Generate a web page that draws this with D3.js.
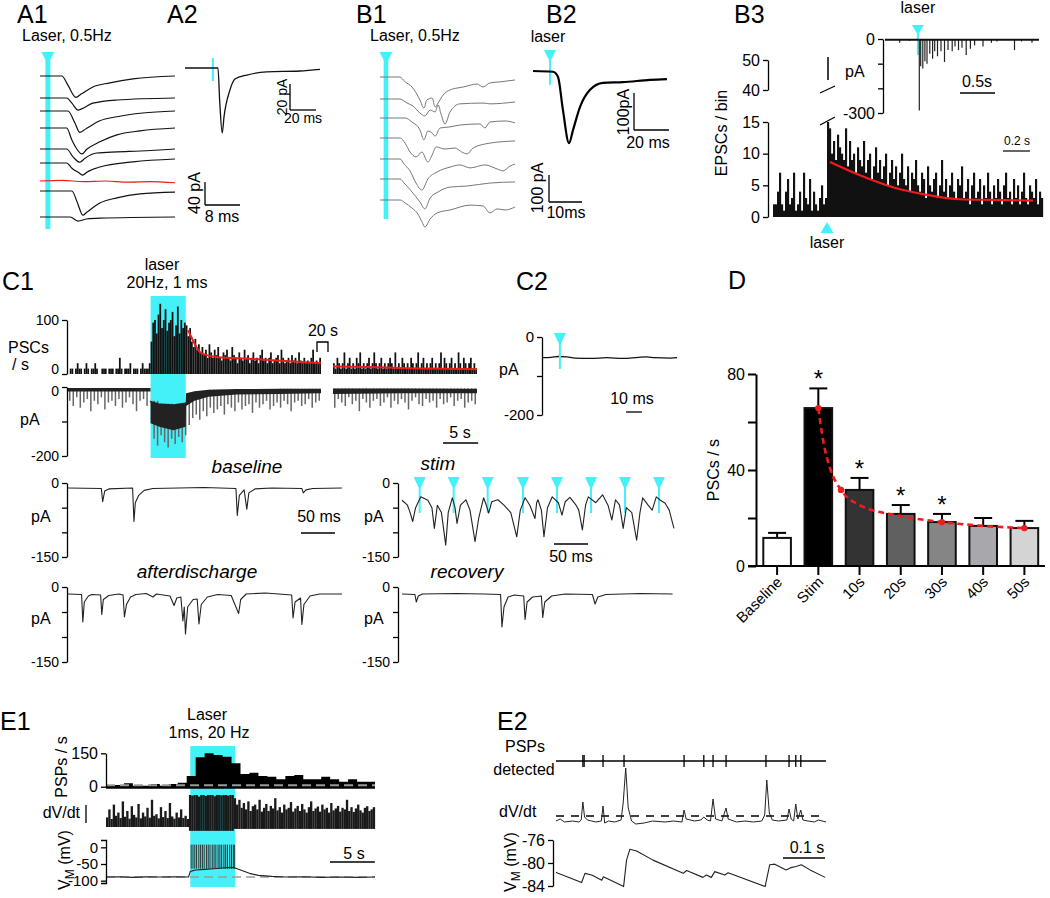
<!DOCTYPE html>
<html><head><meta charset="utf-8">
<script src="https://cdn.jsdelivr.net/npm/d3@7"></script>
<style>body{margin:0;background:#fff}</style>
</head><body>
<script>
// ================= DATA =================
// A1: evoked EPSCs (ms, pA), 9 sweeps, sweep 7 is the failure (red)
const a1Laser = 1.8;
const a1Traces = [
 [[0,0],[5,0],[6.4,-16],[8.2,-37],[9.5,-31],[12.1,-19],[16,-12],[21.3,-5],[30.9,0]],
 [[0,0],[6.1,0],[7.3,-9],[8.7,-21],[9.5,-19],[12.1,-9],[17.6,-3.5],[30.9,0]],
 [[0,0],[6.4,0],[8,-21],[9.1,-37],[10.7,-30],[13.7,-17],[17.6,-10],[23.5,-3.5],[30.9,0]],
 [[0,0],[6.1,0],[7.3,-21],[9.6,-45],[10.7,-37],[13.7,-24],[17.6,-12],[22.9,-5],[30.9,0]],
 [[0,0],[6.1,0],[7.6,-14],[9.1,-23],[10.3,-16],[13,-7],[17.6,-5],[22.9,-3.5],[30.9,0]],
 [[0,0],[6.1,0],[7.3,-9],[8.9,-17],[9.8,-21],[10.7,-16],[13.7,-7],[21.3,2],[30.9,7]],
 [[0,0],[5,1],[10,-1],[15,0],[20,-2],[25,-1],[30.9,-3]],
 [[0,0],[7.3,0],[8.5,-19],[9.8,-42],[10.7,-37],[13.7,-21],[17.6,-12],[22.9,-5],[30.9,-2]],
 [[0,0],[6.9,0],[8.7,-7],[10.7,-3.5],[13.7,-2],[30.9,0]]
];
const a1Failure = 6;
// A2: average EPSC (ms, pA)
const a2Laser = 21.5;
const a2Trace = [[0,0],[25.4,0],[26.7,-25],[28.7,-50],[30,-38],[34.6,-17],[38.5,-8.5],[47.7,-5.4],[63,-3],[88.5,-2.3],[104,-1]];
// B1: polysynaptic EPSCs (ms, pA)
const b1Laser = 1.8;
const b1Traces = [
 [[0,0],[6,0],[7.6,-18],[9.7,-37],[12.1,-85],[13.3,-115],[14.2,-85],[15.8,-78],[16.7,-111],[17.6,-96],[19.1,-67],[21.2,-48],[23.3,-41],[25.2,-37],[29.4,-26],[31.2,-37],[33.3,-22],[36.4,-18],[40.9,-11]],
 [[0,0],[6,0],[8.2,-15],[10,-26],[12.1,-52],[13.6,-63],[15.2,-41],[16.7,-48],[17.6,-22],[18.5,-56],[19.7,-93],[21.2,-48],[24.2,-18],[31.2,-15],[33.3,-18],[40.9,-11]],
 [[0,0],[7.6,0],[9.7,-15],[12.1,-44],[13.3,-81],[14.5,-48],[15.8,-56],[16.7,-67],[18.2,-37],[21.2,-33],[24.2,-26],[30.3,-22],[31.8,-37],[33.3,-15],[37.9,-11],[40.9,-18]],
 [[0,0],[6.1,0],[7.6,-19],[9.1,-52],[10.9,-70],[12.7,-52],[14.5,-89],[15.8,-63],[17,-33],[19.7,-41],[22.7,-37],[24.8,-52],[26.4,-59],[28.2,-37],[33.3,-19],[40.9,-11]],
 [[0,0],[6.1,0],[7.3,-19],[9.1,-44],[10.9,-89],[12.7,-115],[14.5,-74],[17.3,-48],[21.2,-30],[24.2,-22],[27.3,-33],[31.8,-22],[35.5,-37],[37.3,-44],[39.4,-26],[40.9,-19]],
 [[0,0],[6.1,0],[7.3,-15],[9.7,-48],[12.1,-85],[13.6,-111],[15.2,-70],[17.6,-48],[21.2,-30],[26.4,-26],[33.3,-15],[40.9,-11]],
 [[0,0],[6.1,0],[7.6,-11],[9.7,-30],[11.5,-52],[12.7,-81],[13.6,-100],[15.2,-70],[17.3,-48],[21.2,-37],[27.3,-19],[31.2,-22],[33.3,-48],[35.5,-33],[37.9,-37],[40.9,-26]]
];
// B2: average EPSC (ms, pA)
const b2Laser = 9.7;
const b2Trace = [[0,0],[11.4,-2],[14.3,-16],[17.1,-105],[20.6,-195],[22.9,-159],[26.9,-97],[32.6,-51],[40,-32],[51.4,-30],[66.9,-24],[76.6,-22]];
// B3: EPSCs per bin, before and after the laser
const b3Pre = [2,2,4,7,2,1,4,6,2,3,7,1,2,4,1,7,3,2,6,1,4,2,1,3,5,2,3];
const b3Post = [51,14,10,12,9,13,11,10,9,14, 8,12,9,10,7,11,9,8,12,7, 9,10,6,8,11,7,9,6,8,10,
 5,7,9,6,8,5,7,10,6,5, 8,4,7,6,9,5,4,7,6,3, 8,5,4,6,7,3,5,9,4,6, 3,5,7,4,3,6,5,8,3,4,
 6,2,5,7,3,4,6,2,5,3, 7,4,2,5,3,6,4,2,5,7, 3,4,2,6,3,5,2,4,7,3, 2,5,4,3,6,2,4,3];
const b3Fit = [[28.5,8.7],[43.5,6.6],[60,4.7],[77,3.5],[93.5,2.8],[110,2.7],[130,2.6]];
const b3TicksLow = [0,5,10,15];
const b3TicksHigh = [40,50];
// B3 inset: sweep events (s, pA)
const b3InsetLaser = 0.47;
const b3InsetEvents = [[0.21,-15],[0.35,-8],[0.49,-290],[0.51,-110],[0.54,-120],[0.57,-90],[0.6,-100],[0.64,-60],[0.68,-80],[0.71,-50],[0.75,-70],[0.8,-50],[0.85,-93],[0.9,-45],[0.96,-50],[1.0,-30],[1.05,-45],[1.1,-35],[1.16,-65],[1.22,-40],[1.28,-25],[1.4,-30],[1.52,-15],[1.6,-10],[1.85,-45],[1.95,-10],[2.1,-15]];
const b3InsetTicks = [0,-100,-200,-300];
// C1: PSCs / s in 0.25 s bins
const pscBin = 0.25;
const pscBaseline = [0,10,10,0,10,20,10,10,0,10, 20,10,0,10,10,20,10,0,0,10, 10,10,0,10,10,10,0,10,10,30, 10,0,10,10,10,20,0,10,10,10, 0,10,20,10,10,10,20];
const pscStim = [60,95,100,75,110,130,85,100,120,80, 95,100,115,70,90,125,75,100,85,95];
const pscAfter = [90,70,85,60,50,65,45,55,40,50, 35,45,30,55,40,30,45,35,50,30, 25,40,35,45,30,25,50,35,30,20,
 40,30,25,45,30,35,20,30,40,25, 30,20,35,45,25,30,20,30,40,20, 25,30,35,20,45,30,20,25,30,20, 35,25,30,20,40,25,20,30,20,25, 20,30,45,20,25,20,30];
const pscLate = [20,10,30,20,10,20,40,10,20,30, 10,20,10,30,20,40,10,20,10,20, 30,10,20,40,20,10,20,30,10,20,
 10,20,30,20,10,40,10,20,10,30, 20,10,20,10,30,20,10,20,40,10, 20,30,10,20,10,20,30,10,20,10,
 20,40,10,30,20,10,20,30,10,20, 10,40,20,10,30,20,10,20,30,10, 20,10];
const pscFit1 = [[17.1,81],[17.9,59],[18.9,39],[21.3,31],[26,28],[30.7,24],[36,20]];
const pscFit2 = [[0,14],[4.9,13],[9.6,11],[20.5,9]];
const c1Laser = [11.75, 16.75];
// C1: current trace, 0.5 s bins: spike tips (pA) and band envelope [t, top, bottom]
const pABin = 0.5;
const pASpkPre = [-40,-55,-30,-60,-45,-35,-70,-40,-50,-30,-65,-45,-40,-55,-35,-60,-45,-30,-50,-70,-40,-35,-55,-45];
const pASpkStim = [-150,-170,-140,-160,-175,-150,-165,-145,-160,-140];
const pASpkAfter = [-110,-90,-80,-95,-70,-85,-60,-75,-65,-55,-80,-50,-60,-70,-45,-65,-55,-50,-75,-45,-60,-50,-40,-65,-55,-45,-60,-40,-50,-70,-45,-40,-55,-50,-35,-60,-45,-40];
const pASpkLate = [-60,-35,-45,-55,-30,-50,-40,-70,-35,-45,-60,-40,-35,-55,-45,-30,-60,-40,-50,-35,-45,-65,-40,-30,-50,-55,-35,-45,-40,-60,-35,-50,-45,-30,-55,-40,-35,-60,-45,-40,-50];
const pABand1 = [[0,-3,-13],[11.74,-3,-13],[11.75,-40,-105],[13,-48,-115],[15,-50,-125],[16.75,-45,-115],[16.8,-18,-55],[18,-12,-40],[20,-8,-28],[24,-6,-22],[30,-5,-20],[36,-5,-18]];
const pABand2 = [[0,-4,-20],[10,-4,-18],[20.5,-5,-18]];
// C2 (ms, pA)
const c2Laser = 10.6;
const c2Trace = [[0,-53],[5,-52],[10,-50],[15,-51],[20,-54],[30,-55],[40,-53],[50,-55],[60,-52],[65,-51],[70,-53],[80,-54],[84,-53]];
// C sample sweeps (ms, pA)
const cBaseline = [[0,-10],[49,-11],[51,-38],[54,-16],[60,-12],[95,-10],[97,-78],[99,-40],[104,-25],[112,-15],[125,-11],[200,-9],[247,-11],[249,-66],[252,-25],[259,-14],[263,-53],[266,-20],[275,-12],[300,-10],[344,-11],[346,-20],[350,-14],[360,-11],[403,-10]];
const cStim = [[0,-35],[8,-45],[12,-60],[15.7,-78],[20,-50],[27.6,-28],[38,-35],[44,-50],[47.6,-92],[52,-45],[58,-60],[64.3,-126],[68,-60],[74,-30],[78,-50],[80.9,-82],[86,-45],[94,-34],[100,-55],[107.4,-119],[113,-70],[120,-30],[124,-45],[127.5,-61],[132,-38],[141,-34],[150,-45],[160,-60],[168.8,-109],[174,-55],[181,-30],[188,-45],[195.6,-72],[198,-40],[200,-34],[205,-55],[208.8,-109],[214,-50],[221,-28],[230,-40],[235.3,-65],[240,-38],[247,-29],[256,-45],[260,-55],[265.3,-95],[270,-45],[274,-28],[285,-40],[295,-24],[303,-45],[308.7,-75],[314,-34],[320,-45],[325.3,-92],[330,-50],[338,-60],[345.1,-116],[350,-60],[354,-30],[362,-45],[368,-55],[374,-28],[380,-35],[387,-41],[393,-55],[400,-92]];
const cStimPulses = [26,76,126,178,228,278,328,378];
const cAfter = [[0,-14],[20,-15],[21.8,-70],[24,-30],[30,-18],[35,-15],[48,-16],[49.7,-55],[52,-25],[60,-17],[75,-14],[81,-16],[83,-60],[86,-35],[92,-20],[100,-15],[115,-13],[125,-20],[130,-14],[140,-16],[150,-18],[156,-37],[160,-22],[166,-20],[169,-68],[171,-40],[172.8,-94],[176,-40],[184,-25],[190,-24],[192.6,-74],[196,-35],[205,-20],[220,-15],[240,-17],[251,-53],[254,-25],[262,-14],[290,-12],[310,-14],[329,-16],[331,-62],[334,-30],[342,-22],[344,-75],[347,-35],[356,-18],[370,-14],[403,-14]];
const cRecovery = [[0,-14],[19,-15],[21,-30],[24,-18],[30,-14],[80,-13],[120,-14],[145,-15],[147,-80],[150,-40],[156,-20],[165,-16],[179,-18],[181,-65],[184,-30],[192,-20],[205,-18],[207,-61],[210,-30],[220,-18],[240,-14],[280,-15],[284,-34],[288,-20],[300,-15],[350,-13],[398,-14]];
// D: PSCs / s
const dCats = ['Baseline','Stim','10s','20s','30s','40s','50s'];
const dMeans = [11.7,65.8,31.7,21.7,18.3,16.7,15.8];
const dErr = [2.1,8.2,5.0,3.7,3.4,3.3,3.0];
const dSig = [false,true,true,true,true,false,false];
const dFill = ['#ffffff','#000000','#333333','#606060','#858585','#a7a7ac','#d4d4d4'];
const dFit = [[1,65.8],[1.12,52],[1.3,40],[1.55,31.7],[2,25.4],[3,20.8],[4,18.3],[5,16.7],[6,15.8]];
const dFitDots = [[1,65.8],[1.55,31.7],[4,18.3],[6,15.8]];
const dTicks = [0,20,40,60,80];
const dTickLabels = [0,40,80];
// E1: PSPs / s (1 s bins), dV/dt (0.25 s bins), membrane potential
const e1Laser = [9.4,14.4];
const e1Psp = [7.5,7.5,15,4.5,4.5,12,4.5,12,18,48,132,150,142,135,105,57,63,48,45,33,48,52,33,33,45,33,22,33,22,22];
const e1PspDashed = 6;
const e1DvBin = 0.25;
const e1DvPre = [30,55,25,70,35,45,28,80,32,50,26,65,38,30,72,27,45,33,60,29,85,35,40,27,62,31,50,28,75,33,26,45,30,55,28,35,25];
const e1DvStim = [100,98,100,100,95,100,100,97,100,100,100,96,100,100,99,100,100,98,100,100];
const e1DvAfter = [90,70,85,60,75,55,80,50,65,70, 55,85,48,60,72,50,66,58,90,52, 62,45,70,55,60,78,48,58,66,50,
 72,55,45,62,80,50,58,64,48,70, 55,60,45,75,52,58,66,48,60,55, 85,50,62,47,58,70,52,45,60,65, 50,55,62];
const e1DvFloor = [0,-12,-6];
const e1Vm = [[0,-89],[1.5,-88],[3,-90],[4.5,-88.5],[6,-89],[7.5,-88],[9.2,-89],[9.4,-72],[10,-68],[11,-66],[12,-64],[13,-62],[14,-60],[14.4,-62],[15,-68],[16,-78],[17,-84],[18.5,-87],[20,-89],[22,-88],[24,-90],[26,-89],[28,-90],[30,-89]];
const e1Spikes = [9.5,9.7,9.9,10.1,10.35,10.55,10.75,10.95,11.2,11.4,11.6,11.85,12.05,12.25,12.5,12.7,12.9,13.15,13.35,13.55,13.8,14.0,14.2,14.35];
const e1VmRest = -89;
const e1VmTicks = [0,-50,-100];
// E2: detected PSPs (s), dV/dt, membrane potential (mV)
const e2Events = [0.064,0.067,0.112,0.162,0.305,0.352,0.374,0.405,0.5,0.555,0.571,0.583];
const e2Dv = [[0,2],[0.01,4],[0.02,1],[0.04,2],[0.055,1],[0.06,3],[0.064,21],[0.068,6],[0.075,3],[0.085,2],[0.095,1],[0.108,2],[0.112,17],[0.116,0],[0.125,2],[0.14,1],[0.155,3],[0.16,20],[0.166,55],[0.172,15],[0.18,2],[0.19,-1],[0.21,0],[0.23,2],[0.26,1],[0.28,2],[0.3,1],[0.305,13],[0.31,4],[0.33,2],[0.345,3],[0.352,6],[0.36,3],[0.368,2],[0.374,24],[0.38,4],[0.395,2],[0.405,15],[0.41,4],[0.43,1],[0.45,2],[0.47,1],[0.49,2],[0.497,8],[0.502,43],[0.508,10],[0.515,3],[0.53,2],[0.55,3],[0.555,14],[0.56,4],[0.566,2],[0.571,19],[0.576,4],[0.583,13],[0.588,3],[0.6,2],[0.615,1],[0.625,3],[0.643,1]];
const e2Thresh = 7;
const e2Vm = [[0,-81.6],[0.002,-81.7],[0.061,-83.4],[0.069,-81.8],[0.085,-82.1],[0.109,-83],[0.113,-82.4],[0.161,-84.1],[0.168,-79.5],[0.176,-77.6],[0.192,-77.9],[0.231,-79.5],[0.303,-81.8],[0.311,-81.3],[0.35,-82.5],[0.358,-82.1],[0.37,-82.5],[0.378,-81.5],[0.402,-82.1],[0.41,-81.7],[0.498,-84.1],[0.509,-80.3],[0.521,-80.2],[0.548,-81.2],[0.56,-80.8],[0.572,-80.6],[0.584,-80.3],[0.605,-81.2],[0.641,-82.5]];
const e2VmTicks = [-76,-80,-84];

// ================= DRAWING =================
const FONT = '"Liberation Sans", Arial, Helvetica, sans-serif';
const CY = '#45f1f8';
const RED = '#ee1c1c';
const svg = d3.select('body').append('svg').attr('width',1050).attr('height',898)
  .style('font-family',FONT).style('background','#fff');

function T(x,y,s,o={}){
  const t = svg.append('text').attr('x',x).attr('y',y).text(s)
    .attr('font-size',o.size||16).attr('text-anchor',o.anchor||'start').attr('fill',o.fill||'#000');
  if(o.italic) t.attr('font-style','italic');
  if(o.rot) t.attr('transform',`rotate(${o.rot},${x},${y})`);
  return t;
}
function L(x1,y1,x2,y2,w=1.3,c='#000',dash=null){
  const l = svg.append('line').attr('x1',x1).attr('y1',y1).attr('x2',x2).attr('y2',y2)
    .attr('stroke',c).attr('stroke-width',w);
  if(dash) l.attr('stroke-dasharray',dash);
  return l;
}
function P(pts,xs,ys,c='#111',w=1.2,curve=d3.curveLinear,dash=null){
  const p = svg.append('path').attr('d',d3.line().x(d=>xs(d[0])).y(d=>ys(d[1])).curve(curve)(pts))
    .attr('fill','none').attr('stroke',c).attr('stroke-width',w).attr('stroke-linejoin','round');
  if(dash) p.attr('stroke-dasharray',dash);
  return p;
}
function triDown(x,yTop,w=12,h=12){
  svg.append('path').attr('d',`M${x-w/2},${yTop}L${x+w/2},${yTop}L${x},${yTop+h}Z`).attr('fill',CY);
}
function triUp(x,yTop,w=12,h=11){
  svg.append('path').attr('d',`M${x},${yTop}L${x+w/2},${yTop+h}L${x-w/2},${yTop+h}Z`).attr('fill',CY);
}
function scaleBarL(x0,yTop,yBot,x1,w=1.3){
  L(x0,yTop,x0,yBot,w); L(x0,yBot,x1,yBot,w);
}
function yAxis(x,scale,vals,fmt,o={}){
  const ax = d3.axisLeft(scale).tickValues(vals).tickSize(o.ts||5).tickSizeOuter(o.outer||0).tickPadding(o.pad||3)
    .tickFormat(fmt||(d=>d));
  const g = svg.append('g').attr('transform',`translate(${x},0)`).call(ax);
  g.attr('font-family',null).attr('font-size',o.size||15);
  g.selectAll('path,line').attr('stroke','#000').attr('stroke-width',o.sw||1.3);
  g.selectAll('text').attr('fill','#000');
  return g;
}
function panel(x,y,s){ T(x,y,s,{size:25}); }

// ---------- A1 ----------
panel(17,23,'A1');
T(22,41,'Laser, 0.5Hz');
{
  const xs = d3.scaleLinear().domain([0,30.9]).range([40,175]);
  const bases = [76,98,111,128,149,163,181,191,217];
  const lx = xs(a1Laser);
  svg.append('rect').attr('x',lx-2.5).attr('y',58).attr('width',5).attr('height',171).attr('fill',CY);
  triDown(lx,52,13,12);
  a1Traces.forEach((tr,i)=>{
    const ys = d3.scaleLinear().domain([0,-40]).range([bases[i],bases[i]+23]);
    P(tr,xs,ys,i===a1Failure?RED:'#111',1.2,d3.curveMonotoneX);
  });
  const ysb = d3.scaleLinear().domain([0,-40]).range([182,205]);
  scaleBarL(205,ysb(0),ysb(-40),205+xs(8)-xs(0));
  T(200,193,'40 pA',{rot:-90,anchor:'middle'});
  T(222,222,'8 ms',{anchor:'middle'});
}
// ---------- A2 ----------
panel(167,23,'A2');
{
  const xs = d3.scaleLinear().domain([0,104]).range([185,320]);
  const ys = d3.scaleLinear().domain([0,-20]).range([68,94]);
  L(xs(a2Laser),58,xs(a2Laser),81,2,CY);
  P(a2Trace,xs,ys,'#111',1.3,d3.curveMonotoneX);
  scaleBarL(290,84,84+ys(-20)-ys(0),290+xs(20)-xs(0));
  T(287,97,'20 pA',{rot:-90,anchor:'middle',size:14});
  T(303,123,'20 ms',{anchor:'middle',size:14});
}
// ---------- B1 ----------
panel(356,23,'B1');
T(370,41,'Laser, 0.5Hz');
{
  const xs = d3.scaleLinear().domain([0,40.9]).range([380,515]);
  const bases = [77,99,118,138,159,179,200];
  const lx = xs(b1Laser);
  svg.append('rect').attr('x',lx-2.3).attr('y',58).attr('width',4.6).attr('height',161).attr('fill',CY);
  triDown(lx,52,13,12);
  b1Traces.forEach((tr,i)=>{
    const ys = d3.scaleLinear().domain([0,-100]).range([bases[i],bases[i]+27]);
    P(tr,xs,ys,'#777',1,d3.curveMonotoneX);
  });
  scaleBarL(549,175,202,549+xs(10)-xs(0));
  T(543,188,'100 pA',{rot:-90,anchor:'middle'});
  T(566,218,'10ms',{anchor:'middle'});
}
// ---------- B2 ----------
panel(546,23,'B2');
T(548,42,'laser',{anchor:'middle'});
{
  const xs = d3.scaleLinear().domain([0,76.6]).range([533,667]);
  const ys = d3.scaleLinear().domain([0,-100]).range([71,108]);
  const lx = xs(b2Laser);
  triDown(lx,50,12,12);
  L(lx,60,lx,85,2,CY);
  P(b2Trace,xs,ys,'#000',2.2,d3.curveMonotoneX);
  scaleBarL(634,93,93+ys(-100)-ys(0),634+xs(20)-xs(0));
  T(629,112,'100pA',{rot:-90,anchor:'middle'});
  T(648,148,'20 ms',{anchor:'middle'});
}
// ---------- B3 ----------
panel(734,23,'B3');
{
  const all = b3Pre.concat(b3Post);
  const xs = d3.scaleLinear().domain([0,all.length]).range([773,1043]);
  const yLo = d3.scaleLinear().domain([0,15]).range([217,122]);
  const yHi = d3.scaleLinear().domain([40,50]).range([90,60]);
  const bw = xs(1)-xs(0);
  svg.append('g').selectAll('rect').data(all).join('rect')
    .attr('x',(d,i)=>xs(i)).attr('width',bw+0.15)
    .attr('y',d=>yLo(Math.min(d,15))).attr('height',d=>yLo(0)-yLo(Math.min(d,15)))
    .attr('fill','#111');
  all.forEach((d,i)=>{ if(d>15) L(xs(i)+bw/2,yHi(43.3),xs(i)+bw/2,yHi(d),1.5); });
  P(b3Fit,xs,yLo,RED,2.2,d3.curveMonotoneX);
  yAxis(768,yLo,b3TicksLow,null,{size:16});
  yAxis(768,yHi,b3TicksHigh,null,{size:16});
  L(820,125,835,117,1.2); L(820,93,835,86,1.2);
  T(727,133,'EPSCs / bin',{rot:-90,anchor:'middle'});
  T(1017,145,'0.2 s',{anchor:'middle',size:12});
  L(1003,151,1003+xs(13.5)-xs(0),151,1.2);
  const lx = xs(b3Pre.length);
  triUp(lx,222,13,11);
  T(lx,248,'laser',{anchor:'middle'});
  const xi = d3.scaleLinear().domain([0,2.2]).range([885,1039]);
  const yi = d3.scaleLinear().domain([-300,0]).range([113,39]);
  yAxis(883,yi,b3InsetTicks,d=>(d===0||d===-300)?d:'',{size:16});
  T(845,77,'pA');
  const il = xi(b3InsetLaser);
  triDown(il,25,12,10);
  L(il,33,il,55,2,CY);
  svg.append('g').selectAll('line').data(b3InsetEvents).join('line')
    .attr('x1',d=>xi(d[0])).attr('x2',d=>xi(d[0])).attr('y1',yi(-3)).attr('y2',d=>yi(d[1]))
    .attr('stroke','#222').attr('stroke-width',1.2);
  P([[0,-3],[2.2,-3]],xi,yi,'#111',2.2);
  T(il,13,'laser',{anchor:'middle'});
  T(977,87,'0.5s',{anchor:'middle'});
  L(960,93,960+xi(0.5)-xi(0),93,1.3);
}
// ---------- C1 ----------
panel(2,290,'C1');
T(162,270,'laser',{anchor:'middle'});
T(167,288,'20Hz, 1 ms',{anchor:'middle'});
{
  const seg1 = pscBaseline.concat(pscStim,pscAfter);
  const xs1 = d3.scaleLinear().domain([0,seg1.length*pscBin]).range([68,321]);
  const xs2 = d3.scaleLinear().domain([0,pscLate.length*pscBin]).range([333,477]);
  const yP = d3.scaleLinear().domain([0,100]).range([374,320]);
  const yA = d3.scaleLinear().domain([0,-200]).range([387,456]);
  svg.append('rect').attr('x',xs1(c1Laser[0])).attr('y',296).attr('width',xs1(c1Laser[1])-xs1(c1Laser[0]))
    .attr('height',162).attr('fill',CY);
  [[seg1,xs1],[pscLate,xs2]].forEach(([arr,xs])=>{
    svg.append('g').selectAll('rect').data(arr).join('rect')
      .attr('x',(d,i)=>xs(i*pscBin)).attr('width',xs(pscBin)-xs(0))
      .attr('y',d=>yP(d)).attr('height',d=>yP(0)-yP(d)).attr('fill','#111');
  });
  P(pscFit1,xs1,yP,RED,2,d3.curveMonotoneX);
  P(pscFit2,xs2,yP,RED,2,d3.curveMonotoneX);
  const gp = yAxis(67,yP,[0,100],null,{size:14});
  gp.selectAll('.tick text').filter(d=>d===0).attr('dy','-0.05em');
  T(8,353,'PSCs'); T(12,370,'/ s');
  const spk1 = pASpkPre.concat(pASpkStim,pASpkAfter);
  const bandTop = (band,t)=>{ let v=band[0][1]; band.forEach(k=>{ if(k[0]<=t) v=k[1]; }); return v; };
  [[spk1,xs1,pABand1],[pASpkLate,xs2,pABand2]].forEach(([arr,xs,band])=>{
    svg.append('g').selectAll('line').data(arr).join('line')
      .attr('x1',(d,i)=>xs((i+0.5)*pABin)).attr('x2',(d,i)=>xs((i+0.5)*pABin))
      .attr('y1',(d,i)=>yA(bandTop(band,(i+0.5)*pABin))).attr('y2',d=>yA(d))
      .attr('stroke','#666').attr('stroke-width',1.5);
    svg.append('path').attr('d',d3.area().x(d=>xs(d[0])).y0(d=>yA(d[1])).y1(d=>yA(d[2]))(band))
      .attr('fill','#222');
  });
  const ga = yAxis(67,yA,[0,-100,-200],d=>d===-100?'':d,{size:14});
  ga.selectAll('.tick text').filter(d=>d===0).attr('dy','0.6em');
  T(20,425,'pA');
  T(323,336,'20 s',{anchor:'middle'});
  svg.append('path').attr('d','M317,352V342H328V352').attr('fill','none').attr('stroke','#000').attr('stroke-width',1.3);
  T(460,438,'5 s',{anchor:'middle'});
  L(443,443,443+xs1(5)-xs1(0),443,1.3);
}
// ---------- C2 ----------
panel(516,290,'C2');
{
  const xs = d3.scaleLinear().domain([0,84]).range([543,677]);
  const ys = d3.scaleLinear().domain([0,-200]).range([337,415]);
  yAxis(542,ys,[0,-100,-200],d=>d===-100?'':d,{size:15});
  T(499,375,'pA');
  P(c2Trace,xs,ys,'#111',1.3,d3.curveMonotoneX);
  const lx = xs(c2Laser);
  triDown(lx,333,12,13);
  L(lx,344,lx,369,2,CY);
  T(632,404,'10 ms',{anchor:'middle'});
  L(626,412,626+xs(10)-xs(0),412,1.3);
}
// ---------- C sample sweeps ----------
{
  const xl = d3.scaleLinear().domain([0,403]).range([68,342]);
  const xr = d3.scaleLinear().domain([0,403]).range([402,676]);
  const yTop = d3.scaleLinear().domain([0,-150]).range([483,557]);
  const yBot = d3.scaleLinear().domain([0,-150]).range([587,662]);
  const fmt = d=>(d===0||d===-150)?d:'';
  T(247,473,'baseline',{anchor:'middle',italic:true,size:19});
  yAxis(67,yTop,[0,-50,-100,-150],fmt,{size:14});
  T(31,522,'pA');
  P(cBaseline,xl,yTop,'#222',1.1);
  T(319,522,'50 ms',{anchor:'middle'});
  L(301,533,301+xl(50)-xl(0),533,1.3);
  T(438,470,'stim',{anchor:'middle',italic:true,size:19});
  yAxis(398,yTop,[0,-50,-100,-150],fmt,{size:14});
  T(364,522,'pA');
  cStimPulses.forEach(t=>{ const x=xr(t); triDown(x,477,12,13); L(x,488,x,513,2,CY); });
  P(cStim,xr,yTop,'#222',1.1);
  L(554,544,554+xr(50)-xr(0),544,1.3);
  T(571,562,'50 ms',{anchor:'middle'});
  T(197,578,'afterdischarge',{anchor:'middle',italic:true,size:19});
  yAxis(67,yBot,[0,-50,-100,-150],fmt,{size:14});
  T(31,624,'pA');
  P(cAfter,xl,yBot,'#222',1.1);
  T(467,578,'recovery',{anchor:'middle',italic:true,size:19});
  yAxis(398,yBot,[0,-50,-100,-150],fmt,{size:14});
  T(364,624,'pA');
  P(cRecovery,xr,yBot,'#222',1.1);
}
// ---------- D ----------
panel(728,289,'D');
{
  const xb = d3.scaleBand().domain(dCats).range([756.5,1045]).paddingInner(0.33).paddingOuter(0.165);
  const bw = xb.bandwidth();
  const cx = i => xb(dCats[0]) + bw/2 + i*xb.step();
  const y = d3.scaleLinear().domain([0,80]).range([566,374]);
  dCats.forEach((c,i)=>{
    const x = xb(c)+bw/2;
    L(x,y(dMeans[i]),x,y(dMeans[i]+dErr[i]),2);
    L(x-9,y(dMeans[i]+dErr[i]),x+9,y(dMeans[i]+dErr[i]),2);
  });
  svg.append('g').selectAll('rect').data(dMeans).join('rect')
    .attr('x',(d,i)=>xb(dCats[i])).attr('width',bw)
    .attr('y',d=>y(d)).attr('height',d=>y(0)-y(d))
    .attr('fill',(d,i)=>dFill[i]).attr('stroke','#111').attr('stroke-width',2);
  dSig.forEach((s,i)=>{ if(s) T(cx(i),y(dMeans[i]+dErr[i])-1,'*',{anchor:'middle',size:24}); });
  P(dFit,cx,y,RED,2.6,d3.curveMonotoneX,'6,4');
  svg.append('g').selectAll('circle').data(dFitDots).join('circle')
    .attr('cx',d=>cx(d[0])).attr('cy',d=>y(d[1])).attr('r',3.2).attr('fill',RED);
  yAxis(756,y,dTicks,d=>dTickLabels.includes(d)?d:'',{size:16,ts:8,sw:2});
  L(748,566,1045,566,2);
  dCats.forEach((c,i)=>{
    const x = cx(i);
    L(x,566,x,575,2);
    T(x+6,583,c,{anchor:'end',rot:-45,size:15});
  });
  T(719,470,'PSCs / s',{rot:-90,anchor:'middle'});
}
// ---------- E1 ----------
panel(0,730,'E1');
T(207,720,'Laser',{anchor:'middle'});
T(209,738,'1ms, 20 Hz',{anchor:'middle'});
{
  const xs = d3.scaleLinear().domain([0,30]).range([106,375]);
  svg.append('rect').attr('x',xs(e1Laser[0])).attr('y',746).attr('width',xs(e1Laser[1])-xs(e1Laser[0]))
    .attr('height',141).attr('fill',CY);
  const yP = d3.scaleLinear().domain([0,150]).range([786.7,753.3]);
  const stepData = e1Psp.map((v,i)=>[i,v]).concat([[e1Psp.length,e1Psp[e1Psp.length-1]]]);
  svg.append('path').attr('d',d3.area().x(d=>xs(d[0])).y0(yP(0)+2).y1(d=>yP(d[1])).curve(d3.curveStepAfter)(stepData))
    .attr('fill','#000');
  L(xs(0),yP(e1PspDashed),xs(30),yP(e1PspDashed),2,'#9a9a9a','9,5');
  yAxis(106,yP,[0,150],null,{size:16});
  T(67,767,'PSPs / s',{rot:-90,anchor:'middle'});
  const dv = e1DvPre.concat(e1DvStim,e1DvAfter);
  const segOf = i => i<e1DvPre.length?0:(i<e1DvPre.length+e1DvStim.length?1:2);
  const yD = d3.scaleLinear().domain([0,100]).range([827,795]);
  svg.append('g').selectAll('rect').data(dv).join('rect')
    .attr('x',(d,i)=>xs(i*e1DvBin)).attr('width',xs(e1DvBin)-xs(0)+0.1)
    .attr('y',d=>yD(d)).attr('height',(d,i)=>yD(e1DvFloor[segOf(i)])-yD(d))
    .attr('fill','#1a1a1a');
  T(80,818,'dV/dt',{anchor:'end'});
  L(86,805,86,823,1.3);
  const yV = d3.scaleLinear().domain([-100,0]).range([880.7,847.3]);
  L(xs(0),yV(e1VmRest),xs(30),yV(e1VmRest),1.6,'#9a9a9a','9,5');
  svg.append('g').selectAll('line').data(e1Spikes).join('line')
    .attr('x1',d=>xs(d)).attr('x2',d=>xs(d)).attr('y1',yV(-64)).attr('y2',yV(8))
    .attr('stroke','#333').attr('stroke-width',1);
  P(e1Vm,xs,yV,'#222',1.1);
  yAxis(106,d3.scaleLinear().domain([-107,22]).range([883,840]),e1VmTicks,null,{size:15,outer:5});
  const vt = svg.append('text').attr('transform','translate(70,860) rotate(-90)').attr('text-anchor','middle').attr('font-size',16);
  vt.append('tspan').text('V'); vt.append('tspan').text('M').attr('font-size',12).attr('dy',4);
  vt.append('tspan').text(' (mV)').attr('dy',-4);
  T(354,859,'5 s',{anchor:'middle'});
  L(330,862,330+xs(5)-xs(0),862,1.5);
}
// ---------- E2 ----------
panel(497,730,'E2');
{
  const xs = d3.scaleLinear().domain([0,0.643]).range([556,826]);
  T(525,752,'PSPs',{anchor:'middle'});
  T(524,775,'detected',{anchor:'middle'});
  L(556,761,826,761,1.3);
  svg.append('g').selectAll('line').data(e2Events).join('line')
    .attr('x1',d=>xs(d)).attr('x2',d=>xs(d)).attr('y1',755).attr('y2',767)
    .attr('stroke','#000').attr('stroke-width',1.3);
  const yD = d3.scaleLinear().domain([0,60]).range([823,763]);
  T(499,817,'dV/dt');
  L(556,yD(e2Thresh),826,yD(e2Thresh),1.3,'#000','8,7');
  P(e2Dv,xs,yD,'#222',1);
  const yV = d3.scaleLinear().domain([-84,-76]).range([886,840]);
  yAxis(553,yV,e2VmTicks,null,{size:16});
  P(e2Vm,xs,yV,'#222',1.1);
  const vt = svg.append('text').attr('transform','translate(516,862) rotate(-90)').attr('text-anchor','middle').attr('font-size',16);
  vt.append('tspan').text('V'); vt.append('tspan').text('M').attr('font-size',12).attr('dy',4);
  vt.append('tspan').text(' (mV)').attr('dy',-4);
  T(807,853,'0.1 s',{anchor:'middle'});
  L(783,858,783+xs(0.1)-xs(0),858,1.5);
}
</script>
</body></html>
